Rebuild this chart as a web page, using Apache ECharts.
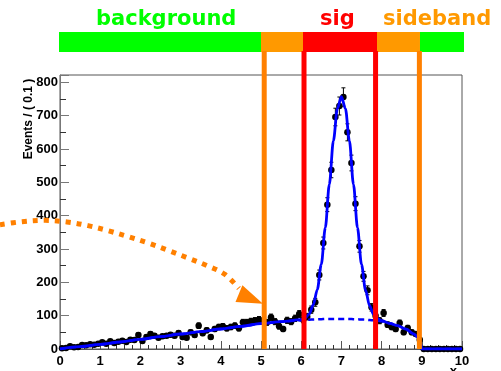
<!DOCTYPE html>
<html><head><meta charset="utf-8">
<script src="https://cdn.jsdelivr.net/npm/echarts@6/dist/echarts.min.js"></script>
<style>html,body{margin:0;padding:0;background:#fff}#c{width:501px;height:371px}</style>
</head><body><div id="c"></div>
<script>
// ---- data ----
const binWidth = 0.1;
const counts = [2,3,8,5,6,12,11,14,13,16, 20,16,23,18,22,25,21,28,27,42,
  24,36,45,40,34,38,40,43,40,48, 36,34,50,42,70,47,56,36,60,66,
  68,62,66,70,62,80,80,83,85,88, 84,80,95,82,68,60,86,82,92,105,
  88,97,118,140,222,318,433,537,696,729, 756,650,558,436,308,218,176,125,100,85,
  108,73,66,60,78,50,63,50,45,28, 0,0,0,0,0,0,0,0,0,0];
const fitX   = [0,0.5,1,1.5,2,2.5,3,3.5,4,4.5,5,5.5,6,6.1,6.2,6.3,6.4,6.5,6.6,6.7,6.8,6.9,7.0,7.1,7.2,7.3,7.4,7.5,7.6,7.7,7.8,7.9,8.0,8.2,8.4,8.6,8.8,8.9,8.95,9.0,9.5,10];
const fitBg  = [0,7,14,21,29,37,45,52,60,68,76,82,86,87,88,88.5,89,89.5,90,90,90,90,90,90,90,89.5,89,88.5,88,87,86,85,83,77,70,60,45,35,25,0,0,0];
const fitTot = [0,7,14,21,29,37,45,52,60,68,76,82,88,93,105,132,178,254,364,494,624,721,757,721,624,494,364,254,177,130,104,91,85,77,70,60,45,35,25,0,0,0];
const regionEdges  = [5.08, 6.07, 7.85, 8.94];
const regionKinds  = ['side','sig','sig','side'];
const barStarts = [-0.025, 5.0, 6.045, 7.886, 8.955];
const barEnds   = [5.0, 6.045, 7.886, 8.955, 10.05];
const barKinds  = ['bkg','side','sig','side','bkg'];
const regionNames = ['background','sig','sideband'];
// annotation arrow, in the plot's own (x, events) units
const arrowX = [-1.4925,-0.945,-0.373,0.174,0.697,1.194,1.692,2.189,2.687,3.184,3.682,4.10,4.45];
const arrowY = [373,382,386,381,370,355,337,318,296,273,249,224,182];
const arrowHeadX = 4.75, arrowHeadY = 151;
const yTicks = [0,100,200,300,400,500,600,700,800];

const colors = {bkg:'#00ff00', side:'#ff9900', sig:'#ff0000', line:'#ff8000'};

const binX = counts.map((_, i) => +(binWidth * i + binWidth / 2).toFixed(2));
const pts = counts.map((c, i) => [binX[i], c]);
const errs = counts.map((c, i) => [binX[i], c, Math.sqrt(c)]);

const chart = echarts.init(document.getElementById('c'));
const lab = {color:'#000', fontFamily:'Liberation Sans', fontWeight:'bold', fontSize:13};
const ttl = {fontFamily:'DejaVu Sans', fontWeight:'bold', fontSize:21};
chart.setOption({
  animation:false,
  title:[
    {text:regionNames[0], left:96, top:9, padding:0, textStyle:Object.assign({color:colors.bkg}, ttl)},
    {text:regionNames[1], left:320, top:9, padding:0, textStyle:Object.assign({color:colors.sig}, ttl)},
    {text:regionNames[2], left:383, top:9, padding:0, textStyle:Object.assign({color:colors.side}, ttl)}
  ],
  graphic:[{type:'text', x:29, y:119, rotation:Math.PI/2, z:20,
    style:{text:'Events / ( 0.1 )', fill:'#000', font:'bold 12px "Liberation Sans"', align:'center', verticalAlign:'middle'}}],
  grid:[
    {left:60, right:39, top:75, bottom:22, show:true, borderColor:'#555', borderWidth:1, outerBoundsMode:'none', containLabel:false},
    {left:59, right:37, top:32, height:20, outerBoundsMode:'none'},
    {left:60, right:39, top:51, bottom:22, outerBoundsMode:'none'},
    {left:0, right:0, top:0, bottom:0, outerBoundsMode:'none'}
  ],
  xAxis:[
    {gridIndex:0, type:'value', min:0, max:10, interval:1,
     name:'x', nameLocation:'end', nameGap:-5, nameMoveOverlap:false,
     nameTextStyle:Object.assign({align:'right', verticalAlign:'top', padding:[16,0,0,0]}, lab),
     axisLine:{lineStyle:{color:'#555'}}, splitLine:{show:false},
     axisTick:{inside:true, length:8, lineStyle:{color:'#555'}},
     minorTick:{show:true, splitNumber:5, length:4, lineStyle:{color:'#333'}},
     axisLabel:Object.assign({margin:6}, lab)},
    {gridIndex:1, type:'value', min:-0.025, max:10.05, show:false},
    {gridIndex:2, type:'value', min:0, max:10, show:false},
    {gridIndex:3, type:'value', min:-1.4925, max:10.970, show:false}
  ],
  yAxis:[
    {gridIndex:0, type:'value', min:0, max:822, interval:100,
     axisLine:{show:true, lineStyle:{color:'#777'}}, splitLine:{show:false},
     axisTick:{inside:true, length:9, lineStyle:{color:'#777'}},
     minorTick:{show:true, splitNumber:2, length:6, lineStyle:{color:'#333'}},
     axisLabel:Object.assign({margin:2, formatter:v => yTicks.indexOf(v) >= 0 ? String(v) : ''}, lab)},
    {gridIndex:1, type:'value', min:0, max:1, show:false},
    {gridIndex:2, type:'value', min:0, max:1, show:false},
    {gridIndex:3, type:'value', min:-66, max:1047, show:false}
  ],
  series:[
    {type:'custom', xAxisIndex:0, yAxisIndex:0, z:3, data:errs,
     renderItem:(p, api) => {
       const x = api.value(0), y = api.value(1), e = api.value(2);
       if (!e) return null;
       const t = api.coord([x, y + e]), b = api.coord([x, y - e]);
       const st = {stroke:'#000', lineWidth:1};
       return {type:'group', children:[
         {type:'line', shape:{x1:t[0], y1:t[1], x2:b[0], y2:b[1]}, style:st},
         {type:'line', shape:{x1:t[0]-2, y1:t[1], x2:t[0]+2, y2:t[1]}, style:st},
         {type:'line', shape:{x1:b[0]-2, y1:b[1], x2:b[0]+2, y2:b[1]}, style:st}
       ]};
     }},
    {type:'scatter', xAxisIndex:0, yAxisIndex:0, z:4, data:pts, symbol:'circle', symbolSize:6.5, itemStyle:{color:'#000', opacity:1}},
    {type:'line', xAxisIndex:0, yAxisIndex:0, z:5, data:fitX.map((x,i)=>[x, fitBg[i]]), showSymbol:false, smooth:0.3, smoothMonotone:'x',
     lineStyle:{color:'#0000ff', width:2.5, type:[6,4]}},
    {type:'line', xAxisIndex:0, yAxisIndex:0, z:6, data:fitX.map((x,i)=>[x, fitTot[i]]), showSymbol:false, smooth:0.3, smoothMonotone:'x',
     lineStyle:{color:'#0000ff', width:2.8}},
    {type:'custom', xAxisIndex:1, yAxisIndex:1, z:7, data:barStarts.map((s,i)=>[s, barEnds[i], i]),
     renderItem:(p, api) => {
       const a = api.coord([api.value(0), 1]), b = api.coord([api.value(1), 0]);
       return {type:'rect', shape:{x:a[0], y:a[1], width:b[0]-a[0], height:b[1]-a[1]}, style:{fill:colors[barKinds[api.value(2)]]}};
     }},
    {type:'custom', xAxisIndex:2, yAxisIndex:2, z:8, data:regionEdges.map((x,i)=>[x, i]),
     renderItem:(p, api) => {
       const a = api.coord([api.value(0), 1]), b = api.coord([api.value(0), 0]);
       const k = regionKinds[api.value(1)];
       return {type:'line', shape:{x1:a[0], y1:a[1], x2:b[0], y2:b[1]}, style:{stroke:k==='sig'?colors.sig:colors.line, lineWidth:5}};
     }},
    {type:'line', xAxisIndex:3, yAxisIndex:3, z:9, smooth:0.35, showSymbol:false,
     data:arrowX.map((x,i)=>[x, arrowY[i]]),
     lineStyle:{color:colors.line, width:5, type:[5,6], cap:'butt'}},
    {type:'scatter', xAxisIndex:3, yAxisIndex:3, z:9, data:[[arrowHeadX, arrowHeadY]],
     symbol:'triangle', symbolSize:[18,26], symbolRotate:-112.6, itemStyle:{color:colors.line, opacity:1}}
  ]
});
</script>
</body></html>
